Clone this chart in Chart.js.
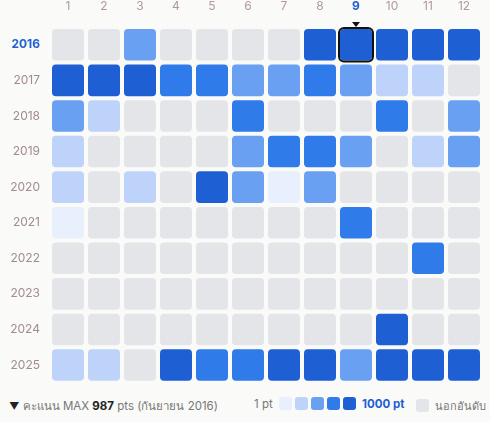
<!DOCTYPE html>
<html><head><meta charset="utf-8">
<script src="https://cdn.jsdelivr.net/npm/chart.js@4/dist/chart.umd.min.js"></script>
<style>
body{margin:0;background:#fafaf8;font-family:Inter,"Noto Sans",sans-serif;}
#wrap{position:relative;width:490px;height:392px;}
.legend{position:absolute;top:397px;left:0;width:490px;font-size:11.5px;color:#777;}
.legend span{position:absolute;white-space:nowrap;}
.sw{display:inline-block;width:13px;height:13px;border-radius:3px;margin-right:3px;vertical-align:-2px;}
</style></head><body>
<div id="wrap"><canvas id="heat"></canvas></div>
<div class="legend">
  <span style="left:9px"><b style="color:#222;font-size:10px">▼</b> คะแนน MAX <b style="color:#222">987</b> pts (กันยายน 2016)</span>
  <span style="left:254px">1 pt</span>
  <span style="left:279px"><i class="sw" style="background:#e8f0fe"></i><i class="sw" style="background:#bdd3fa"></i><i class="sw" style="background:#6aa0f2"></i><i class="sw" style="background:#2f7be9"></i><i class="sw" style="background:#1f5fd4"></i></span>
  <span style="left:362px;color:#1f5fd4;font-weight:bold">1000 pt</span>
  <span style="left:416px;font-size:11px"><i class="sw" style="background:#e4e5e9"></i> นอกอันดับ</span>
</div>
<script>
const months = ['1','2','3','4','5','6','7','8','9','10','11','12'];
const years = ['2016','2017','2018','2019','2020','2021','2022','2023','2024','2025'];
// level 0 = out of ranking, 1..5 = score buckets
const y2016 = [0,0,3,0,0,0,0,5,5,5,5,5];
const y2017 = [5,5,5,4,4,3,3,4,3,2,2,0];
const y2018 = [3,2,0,0,0,4,0,0,0,4,0,3];
const y2019 = [2,0,0,0,0,3,4,4,3,0,2,3];
const y2020 = [2,0,2,0,5,3,1,3,0,0,0,0];
const y2021 = [1,0,0,0,0,0,0,0,4,0,0,0];
const y2022 = [0,0,0,0,0,0,0,0,0,0,4,0];
const y2023 = [0,0,0,0,0,0,0,0,0,0,0,0];
const y2024 = [0,0,0,0,0,0,0,0,0,5,0,0];
const y2025 = [2,2,0,5,4,4,5,5,3,5,5,5];
const levels = [y2016,y2017,y2018,y2019,y2020,y2021,y2022,y2023,y2024,y2025];
const palette = ['#e4e5e9','#e8f0fe','#bdd3fa','#6aa0f2','#2f7be9','#1f5fd4'];
const selected = {x:'9', y:'2016'};

const points = [];
levels.forEach((row, yi) => row.forEach((lv, xi) => points.push({x: months[xi], y: years[yi], v: lv})));

// draws the cells at positions from the chart's own scales
const cellPlugin = {
  id: 'cells',
  beforeDatasetsDraw(chart) {
    const {ctx, scales: {x, y}} = chart;
    const w = x.width / months.length, h = y.height / years.length;
    points.forEach(p => {
      const cx = x.getPixelForValue(p.x), cy = y.getPixelForValue(p.y);
      ctx.fillStyle = palette[p.v];
      ctx.beginPath();
      ctx.roundRect(cx - w/2 + 2, cy - h/2 + 2, w - 4, h - 4, 4);
      ctx.fill();
      if (p.x === selected.x && p.y === selected.y) {
        ctx.strokeStyle = '#111'; ctx.lineWidth = 2;
        ctx.beginPath();
        ctx.roundRect(cx - w/2 + 1, cy - h/2 + 1, w - 2, h - 2, 5);
        ctx.stroke();
        ctx.fillStyle = '#111';
        ctx.beginPath();
        ctx.moveTo(cx - 4, cy - h/2 - 5); ctx.lineTo(cx + 4, cy - h/2 - 5); ctx.lineTo(cx, cy - h/2); ctx.fill();
      }
    });
  }
};

new Chart(document.getElementById('heat'), {
  type: 'scatter',
  data: { datasets: [{ data: points, pointRadius: 0 }] },
  options: {
    responsive: true, maintainAspectRatio: false, animation: false,
    layout: { padding: { right: 8, bottom: 5 } },
    plugins: { legend: { display: false }, tooltip: { enabled: false } },
    scales: {
      x: {
        type: 'category', labels: months, position: 'top', offset: true,
        grid: { display: false }, border: { display: false },
        afterFit: s => { s.height = 27; },
        ticks: { padding: 5, font: c => ({ family: 'Inter', size: 12, weight: months[c.index] === selected.x ? 'bold' : 'normal' }),
                 color: c => months[c.index] === selected.x ? '#1f5fd4' : '#b09a98' }
      },
      y: {
        type: 'category', labels: years, offset: true,
        grid: { display: false }, border: { display: false },
        afterFit: s => { s.width = 50; },
        ticks: { padding: 2, font: c => ({ family: 'Inter', size: 12, weight: years[c.index] === selected.y ? 'bold' : 'normal' }),
                 color: c => years[c.index] === selected.y ? '#1f5fd4' : '#a08c8c' }
      }
    }
  },
  plugins: [cellPlugin]
});
</script>
</body></html>
